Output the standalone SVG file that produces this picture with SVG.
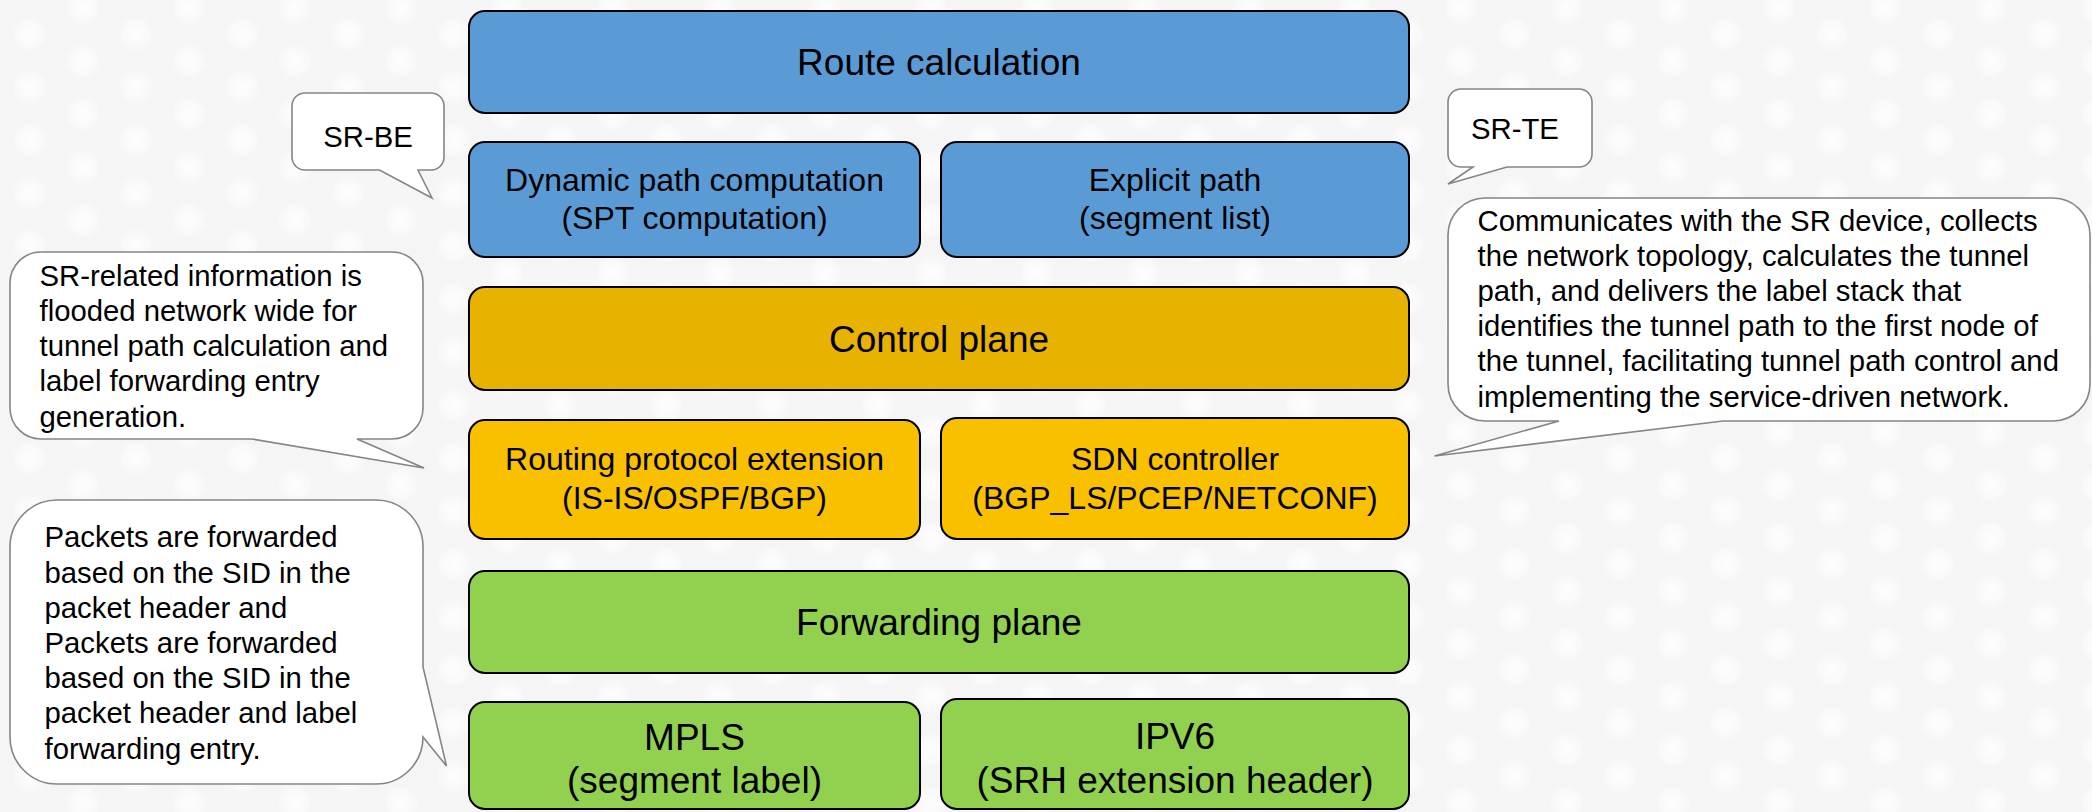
<svg xmlns="http://www.w3.org/2000/svg" width="2092" height="812" viewBox="0 0 2092 812">
  <defs>
    <radialGradient id="dotGrad">
      <stop offset="0" stop-color="#ffffff" stop-opacity="0.8"/>
      <stop offset="0.7" stop-color="#ffffff" stop-opacity="0.45"/>
      <stop offset="1" stop-color="#ffffff" stop-opacity="0"/>
    </radialGradient>
    <pattern id="bgDots" x="4" y="8" width="106" height="106" patternUnits="userSpaceOnUse">
      <circle cx="26" cy="26" r="18" fill="url(#dotGrad)"/>
      <circle cx="26" cy="79" r="18" fill="url(#dotGrad)"/>
      <circle cx="79" cy="0" r="18" fill="url(#dotGrad)"/>
      <circle cx="79" cy="53" r="18" fill="url(#dotGrad)"/>
      <circle cx="79" cy="106" r="18" fill="url(#dotGrad)"/>
    </pattern>
    <style>
      .box { stroke: #000000; stroke-width: 2; }
      .blue { fill: #5b9bd5; }
      .gold { fill: #e8b200; }
      .amber { fill: #f9c000; }
      .green { fill: #92d050; }
      .t { font-family: "Liberation Sans", Arial, sans-serif; fill: #000000; text-anchor: middle; }
      .big { font-size: 37px; }
      .mid { font-size: 32px; }
      .call { fill: #ffffff; stroke: #858585; stroke-width: 1.6; stroke-linejoin: miter; }
      .ct { font-family: "Liberation Sans", Arial, sans-serif; font-size: 29.3px; fill: #000000; }
    </style>
  </defs>

  <!-- page background -->
  <rect x="0" y="0" width="2092" height="812" fill="#f5f5f5"/>
  <rect x="0" y="0" width="2092" height="812" fill="url(#bgDots)"/>

  <!-- layer stack -->
  <g id="route-calculation">
    <rect class="box blue" x="469" y="11" width="940" height="102" rx="16"/>
    <text class="t big" x="939" y="75">Route calculation</text>
  </g>
  <g id="dynamic-path">
    <rect class="box blue" x="469" y="142" width="451" height="115" rx="16"/>
    <text class="t mid" x="694.5" y="190.5">Dynamic path computation</text>
    <text class="t mid" x="694.5" y="229">(SPT computation)</text>
  </g>
  <g id="explicit-path">
    <rect class="box blue" x="941" y="142" width="468" height="115" rx="16"/>
    <text class="t mid" x="1175" y="190.5">Explicit path</text>
    <text class="t mid" x="1175" y="229">(segment list)</text>
  </g>
  <g id="control-plane">
    <rect class="box gold" x="469" y="287" width="940" height="103" rx="16"/>
    <text class="t big" x="939" y="351.5">Control plane</text>
  </g>
  <g id="routing-protocol">
    <rect class="box amber" x="469" y="420" width="451" height="119" rx="16"/>
    <text class="t mid" x="694.5" y="470">Routing protocol extension</text>
    <text class="t mid" x="694.5" y="509">(IS-IS/OSPF/BGP)</text>
  </g>
  <g id="sdn-controller">
    <rect class="box amber" x="941" y="418" width="468" height="121" rx="16"/>
    <text class="t mid" x="1175" y="470">SDN controller</text>
    <text class="t mid" x="1175" y="508.5">(BGP_LS/PCEP/NETCONF)</text>
  </g>
  <g id="forwarding-plane">
    <rect class="box green" x="469" y="571" width="940" height="102" rx="16"/>
    <text class="t big" x="939" y="635">Forwarding plane</text>
  </g>
  <g id="mpls">
    <rect class="box green" x="469" y="702" width="451" height="107" rx="16"/>
    <text class="t big" x="694.5" y="750">MPLS</text>
    <text class="t big" x="694.5" y="793">(segment label)</text>
  </g>
  <g id="ipv6">
    <rect class="box green" x="941" y="699" width="468" height="110" rx="16"/>
    <text class="t big" x="1175" y="748.5">IPV6</text>
    <text class="t big" x="1175" y="793">(SRH extension header)</text>
  </g>

  <!-- callouts -->
  <g id="callout-sr-be">
    <path class="call" d="M305,93 H431 A13,13 0 0 1 444,106 V157 A13,13 0 0 1 431,170 H418 L432,198 L379.5,170 H305 A13,13 0 0 1 292,157 V106 A13,13 0 0 1 305,93 Z"/>
    <text class="ct" x="368" y="146.5" text-anchor="middle" font-size="30">SR-BE</text>
  </g>
  <g id="callout-sr-te">
    <path class="call" d="M1461,89 H1579 A13,13 0 0 1 1592,102 V154 A13,13 0 0 1 1579,167 H1507 L1448,184 L1473,167 H1461 A13,13 0 0 1 1448,154 V102 A13,13 0 0 1 1461,89 Z"/>
    <text class="ct" x="1471" y="138.5">SR-TE</text>
  </g>
  <g id="callout-flooding">
    <path class="call" d="M41,252 H392 A31,31 0 0 1 423,283 V408 A31,31 0 0 1 392,439 H357 L424,468 L252,439 H41 A31,31 0 0 1 10,408 V283 A31,31 0 0 1 41,252 Z"/>
    <text class="ct" x="39.5" y="285.7">SR-related information is</text>
    <text class="ct" x="39.5" y="320.9">flooded network wide for</text>
    <text class="ct" x="39.5" y="356.1">tunnel path calculation and</text>
    <text class="ct" x="39.5" y="391.3">label forwarding entry</text>
    <text class="ct" x="39.5" y="426.5">generation.</text>
  </g>
  <g id="callout-forwarding">
    <path class="call" d="M57,500 H376 A47,47 0 0 1 423,547 V667 L446.5,766 L423,737 V737 A47,47 0 0 1 376,784 H57 A47,47 0 0 1 10,737 V547 A47,47 0 0 1 57,500 Z"/>
    <text class="ct" x="44.5" y="547.3">Packets are forwarded</text>
    <text class="ct" x="44.5" y="582.5">based on the SID in the</text>
    <text class="ct" x="44.5" y="617.7">packet header and</text>
    <text class="ct" x="44.5" y="652.9">Packets are forwarded</text>
    <text class="ct" x="44.5" y="688.1">based on the SID in the</text>
    <text class="ct" x="44.5" y="723.3">packet header and label</text>
    <text class="ct" x="44.5" y="758.5">forwarding entry.</text>
  </g>
  <g id="callout-controller">
    <path class="call" d="M1485,198 H2053 A37,37 0 0 1 2090,235 V384 A37,37 0 0 1 2053,421 H1723 L1434.5,456 L1559,421 H1485 A37,37 0 0 1 1448,384 V235 A37,37 0 0 1 1485,198 Z"/>
    <text class="ct" x="1477.5" y="230.5">Communicates with the SR device, collects</text>
    <text class="ct" x="1477.5" y="265.7">the network topology, calculates the tunnel</text>
    <text class="ct" x="1477.5" y="300.9">path, and delivers the label stack that</text>
    <text class="ct" x="1477.5" y="336.1">identifies the tunnel path to the first node of</text>
    <text class="ct" x="1477.5" y="371.3">the tunnel, facilitating tunnel path control and</text>
    <text class="ct" x="1477.5" y="406.5">implementing the service-driven network.</text>
  </g>
</svg>
